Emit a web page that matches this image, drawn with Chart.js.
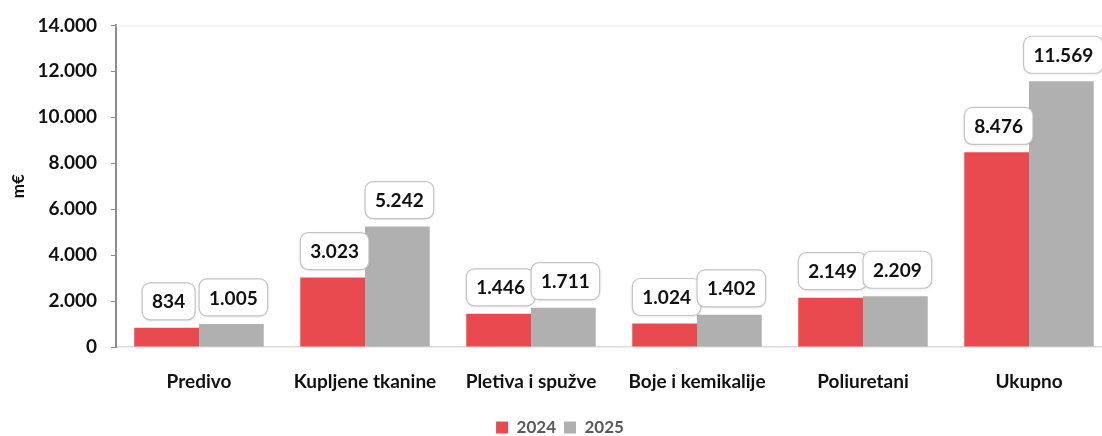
<!DOCTYPE html>
<html>
<head>
<meta charset="utf-8">
<script src="https://cdn.jsdelivr.net/npm/chart.js@4.4.1/dist/chart.umd.min.js"></script>
<style>
  html, body { margin: 0; padding: 0; background: #fff; overflow: hidden; }
  #wrap { width: 1112px; height: 446px; }
</style>
</head>
<body>
<div id="wrap"><canvas id="chart"></canvas></div>
<script>
// chart data
const categories = ['Predivo', 'Kupljene tkanine', 'Pletiva i spužve', 'Boje i kemikalije', 'Poliuretani', 'Ukupno'];
const values2024 = [834, 3023, 1446, 1024, 2149, 8476];
const values2025 = [1005, 5242, 1711, 1402, 2209, 11569];
const yTicks = [0, 2000, 4000, 6000, 8000, 10000, 12000, 14000];

const FONT = "Lato, 'Open Sans', sans-serif";
const fmt = v => v.toLocaleString('de-DE');

// rounded value boxes above each bar (2025 boxes drawn over 2024 ones)
const valueBoxes = {
  id: 'valueBoxes',
  afterDatasetsDraw(chart) {
    const ctx = chart.ctx;
    ctx.save();
    ctx.font = 'bold 19px ' + FONT;
    ctx.textAlign = 'center';
    ctx.textBaseline = 'middle';
    chart.data.datasets.forEach((ds, di) => {
      chart.getDatasetMeta(di).data.forEach((bar, i) => {
        const text = fmt(ds.data[i]);
        const w = ctx.measureText(text).width + 20;
        const h = 37;
        const x = bar.x + 2 - w / 2;
        const y = Math.max(bar.y - 8 - h, 16);
        ctx.beginPath();
        ctx.roundRect(x, y, w, h, 8);
        ctx.fillStyle = '#fff';
        ctx.shadowColor = 'rgba(0,0,0,0.12)';
        ctx.shadowBlur = 3;
        ctx.shadowOffsetY = 1;
        ctx.fill();
        ctx.shadowColor = 'transparent';
        ctx.strokeStyle = '#c4c4c4';
        ctx.lineWidth = 1.2;
        ctx.stroke();
        ctx.fillStyle = '#111';
        ctx.fillText(text, x + w / 2, y + h / 2 + 1);
      });
    });
    ctx.restore();
  }
};

new Chart(document.getElementById('chart'), {
  type: 'bar',
  data: {
    labels: categories,
    datasets: [
      { label: '2024', data: values2024, backgroundColor: '#e84a4f' },
      { label: '2025', data: values2025, backgroundColor: '#b0b0b0' }
    ]
  },
  options: {
    responsive: true,
    maintainAspectRatio: false,
    animation: false,
    layout: { padding: { top: 15, bottom: 0, left: 8, right: 0 } },
    datasets: { bar: { categoryPercentage: 0.78, barPercentage: 1.0 } },
    plugins: {
      legend: {
        position: 'bottom',
        labels: {
          boxWidth: 12, boxHeight: 12, padding: 8,
          color: '#595959',
          font: { family: FONT, size: 17, weight: 'bold' }
        }
      },
      tooltip: { enabled: false }
    },
    scales: {
      x: {
        afterFit: axis => { axis.height = 64; },
        grid: { display: false, drawTicks: false },
        border: { color: '#d9d9d9', width: 1.5 },
        ticks: {
          padding: 23, color: '#111',
          font: { family: FONT, size: 19, weight: 'bold' }
        }
      },
      y: {
        min: 0, max: 14000,
        afterBuildTicks: axis => { axis.ticks = yTicks.map(v => ({ value: v })); },
        afterFit: axis => { axis.width = 108; },
        grid: {
          drawOnChartArea: false, drawTicks: true, tickLength: 5, tickColor: '#8c8c8c'
        },
        border: { color: '#8c8c8c', width: 2 },
        title: {
          display: true, text: 'm€', color: '#111',
          font: { family: FONT, size: 17, weight: 'bold' }, padding: 0
        },
        ticks: {
          padding: 14, color: '#111',
          font: { family: FONT, size: 19, weight: 'bold' },
          callback: v => fmt(v)
        }
      }
    }
  },
  plugins: [valueBoxes, {
    id: 'topLine',
    afterDraw(chart) {
      const { ctx, chartArea } = chart;
      ctx.save();
      ctx.strokeStyle = '#e2f0e2';
      ctx.lineWidth = 1;
      ctx.beginPath();
      ctx.moveTo(chartArea.left, chartArea.top + 0.5);
      ctx.lineTo(chartArea.right, chartArea.top + 0.5);
      ctx.stroke();
      ctx.restore();
    }
  }]
});
</script>
</body>
</html>
